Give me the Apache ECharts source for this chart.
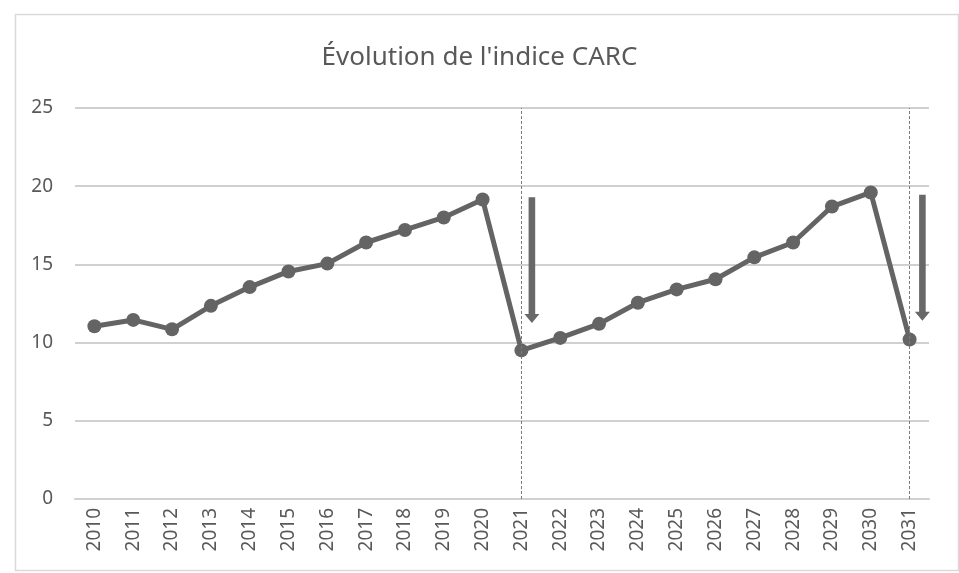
<!DOCTYPE html>
<html>
<head>
<meta charset="utf-8">
<title>Évolution de l'indice CARC</title>
<script src="https://cdn.jsdelivr.net/npm/echarts@6/dist/echarts.min.js"></script>
<style>
  html, body { margin: 0; padding: 0; background: #fff; }
  #main { width: 959px; height: 573px; }
</style>
</head>
<body>
<div id="main"></div>
<script>
// années (axe des x)
var years = ['2010', '2011', '2012', '2013', '2014', '2015', '2016', '2017', '2018', '2019', '2020',
             '2021', '2022', '2023', '2024', '2025', '2026', '2027', '2028', '2029', '2030', '2031'];
// valeurs de l'indice CARC
var carc = [11.05, 11.45, 10.85, 12.35, 13.55, 14.55, 15.05, 16.4, 17.2, 18.0, 19.15,
            9.5, 10.3, 11.2, 12.55, 13.4, 14.05, 15.45, 16.4, 18.7, 19.6, 10.2];
// graduations de l'axe des y
var yTicks = [0, 5, 10, 15, 20, 25];
// années marquées en pointillés
var markYears = ['2021', '2031'];
// flèches : position (en index d'année), haut et pointe (valeur de l'indice)
var arrowPos = [11.27, 21.33];
var arrowTop = [19.3, 19.45];
var arrowTip = [11.25, 11.4];

var Chart_CARC = function () {
    var grey = '#646464';
    var textGrey = '#595959';

    var initChart = function () {
        var myChart = echarts.init(document.getElementById('main'));

        var arrowData = [];
        for (var i = 0; i < arrowPos.length; i++) {
            arrowData.push([arrowPos[i], arrowTop[i], arrowTip[i]]);
        }

        var option = {
            backgroundColor: '#fff',
            textStyle: { fontFamily: 'Noto Sans' },
            title: {
                text: "Évolution de l'indice CARC",
                left: 'center',
                top: 40,
                textStyle: { color: textGrey, fontSize: 26, fontWeight: 'normal', fontFamily: 'Noto Sans' }
            },
            // cadre du graphique
            graphic: [{
                type: 'rect',
                left: 13, top: 12,
                shape: { width: 943, height: 556 },
                style: { fill: 'none', stroke: '#d9d9d9', lineWidth: 1.5 },
                silent: true
            }],
            grid: { left: 75, right: 30, top: 108, bottom: 74 },
            xAxis: [{
                type: 'category',
                data: years,
                boundaryGap: true,
                axisLine: { lineStyle: { color: '#d0d0d0', width: 2 } },
                axisTick: { show: false },
                axisLabel: { rotate: 90, color: textGrey, fontSize: 19, margin: 9, interval: 0 }
            }, {
                // axe invisible pour placer les flèches entre deux années
                type: 'value',
                min: -0.5,
                max: years.length - 0.5,
                show: false
            }],
            yAxis: {
                type: 'value',
                min: yTicks[0],
                max: yTicks[yTicks.length - 1],
                interval: 5,
                axisLine: { show: false },
                axisTick: { show: false },
                splitLine: { lineStyle: { color: '#d0d0d0', width: 2 } },
                axisLabel: { color: textGrey, fontSize: 19, margin: 22 }
            },
            series: [{
                name: 'CARC',
                type: 'line',
                data: carc,
                symbol: 'circle',
                symbolSize: 14,
                lineStyle: { color: grey, width: 5 },
                itemStyle: { color: grey },
                z: 3,
                markLine: {
                    silent: true,
                    symbol: ['none', 'none'],
                    label: { show: false },
                    lineStyle: { color: '#7a7a7a', type: [3, 2], width: 1 },
                    data: markYears.map(function (y) { return { xAxis: y }; })
                }
            }, {
                name: 'flèches',
                type: 'custom',
                xAxisIndex: 1,
                data: arrowData,
                z: 4,
                silent: true,
                renderItem: function (params, api) {
                    var top = api.coord([api.value(0), api.value(1)]);
                    var tip = api.coord([api.value(0), api.value(2)]);
                    var x = top[0], sw = 3.3, hw = 7.5, hh = 9;
                    return {
                        type: 'polygon',
                        shape: {
                            points: [
                                [x - sw, top[1]], [x + sw, top[1]],
                                [x + sw, tip[1] - hh], [x + hw, tip[1] - hh],
                                [x, tip[1]],
                                [x - hw, tip[1] - hh], [x - sw, tip[1] - hh]
                            ]
                        },
                        style: { fill: '#686868' }
                    };
                }
            }]
        };

        myChart.setOption(option);
    };

    return {
        init: function () {
            initChart();
        }
    };
}();

Chart_CARC.init();
</script>
</body>
</html>
